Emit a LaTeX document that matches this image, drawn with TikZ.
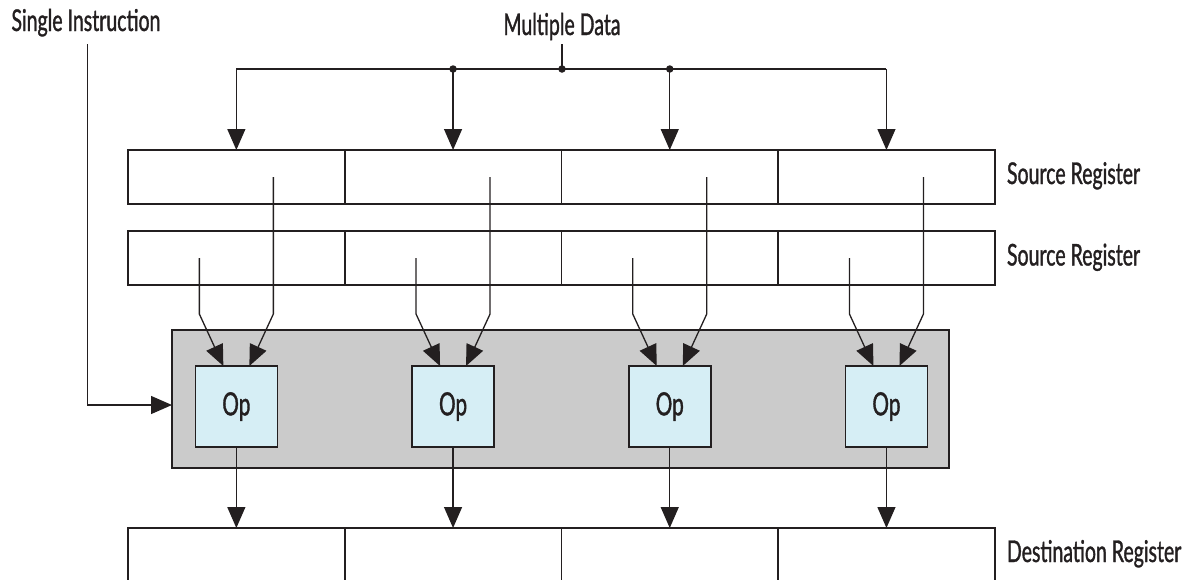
\documentclass[tikz,border=0pt]{standalone}
\usepackage{fontspec}
\setmainfont{Lato}[FakeStretch=0.65,FakeBold=1.1]
\usetikzlibrary{arrows.meta,calc}
\definecolor{ink}{HTML}{231F20}
\definecolor{simdgray}{HTML}{CBCBCB}
\definecolor{opblue}{HTML}{D6EEF5}
\begin{document}
\begin{tikzpicture}[x=1pt,y=-1pt,
  every node/.style={font=\fontsize{30}{33}\selectfont, text=ink, inner sep=0pt, outer sep=0pt},
  cell/.style={draw=ink, line width=1.6pt, minimum width=216.7pt, minimum height=54pt},
  dcell/.style={minimum width=216.7pt, minimum height=51.5pt},
  opbox/.style={draw=ink, line width=1.6pt, fill=opblue, minimum width=82pt, minimum height=81pt, font=\fontsize{32}{34}\selectfont},
  wire/.style={draw=ink, line width=1.3pt},
  arr/.style={wire, -{Triangle[length=21pt,width=18pt]}},
  dot/.style={circle, fill=ink, minimum size=7.5pt}
]
\useasboundingbox (0,0) rectangle (1189,579);
% SIMD block
\node[draw=ink, line width=1.6pt, fill=simdgray, minimum width=777pt, minimum height=138pt] (simd) at (560.5,399) {};
% registers and ops
\foreach \i in {1,2,3,4}{
  \pgfmathsetmacro{\cx}{128+216.7*(\i-0.5)}
  \node[cell] (sa\i) at (\cx,177) {};
  \node[cell] (sb\i) at (\cx,258) {};
  \node[dcell] (d\i) at (\cx,553.75) {};
  \draw[ink, line width=1.6pt] (d\i.south west) -- (d\i.north west) -- (d\i.north east) -- (d\i.south east);
  \node[opbox] (op\i) at (\cx,406.5) {Op};
  \coordinate (ra\i) at ($(sa\i.center)+(37,0)$);
  \coordinate (rb\i) at ($(sb\i.center)+(-37,0)$);
  \coordinate (ka\i) at ($(sa\i.center)+(37,137)$);
  \coordinate (kb\i) at ($(sb\i.center)+(-37,56)$);
  \draw[arr] (ra\i) -- (ka\i) -- ($(op\i.north)+(13,0)$);
  \draw[arr] (rb\i) -- (kb\i) -- ($(op\i.north)+(-13,0)$);
  \draw[arr] (op\i.south) -- (d\i.north);
}
% labels
\node[anchor=base west] (si) at (11.5,31) {Single Instruction};
\node[anchor=base] (md) at (562,35) {Multiple Data};
\node[anchor=base west] (lsa) at (1007,184) {Source Register};
\node[anchor=base west] (lsb) at (1007,265.5) {Source Register};
\node[anchor=base west] (ld) at (1007,562) {Destination Register};
% Multiple data bus
\coordinate (busl) at (sa1.center |- 0,69);
\coordinate (busr) at (sa4.center |- 0,69);
\node[dot] (j2) at (sa2.center |- 0,69) {};
\node[dot] (j0) at (562,69) {};
\node[dot] (j3) at (sa3.center |- 0,69) {};
\draw[wire] (md.south |- 0,44) -- (j0.center);
\draw[wire] (busl) -- (busr);
\draw[arr] (busl) -- (sa1.north);
\draw[arr] (j2.center) -- (sa2.north);
\draw[arr] (j3.center) -- (sa3.north);
\draw[arr] (busr) -- (sa4.north);
% Single instruction
\coordinate (sitop) at (87.3,44);
\coordinate (sibend) at (87.3,405);
\draw[arr] (sitop) -- (sibend) -- (simd.west |- sibend);
\end{tikzpicture}
\end{document}
